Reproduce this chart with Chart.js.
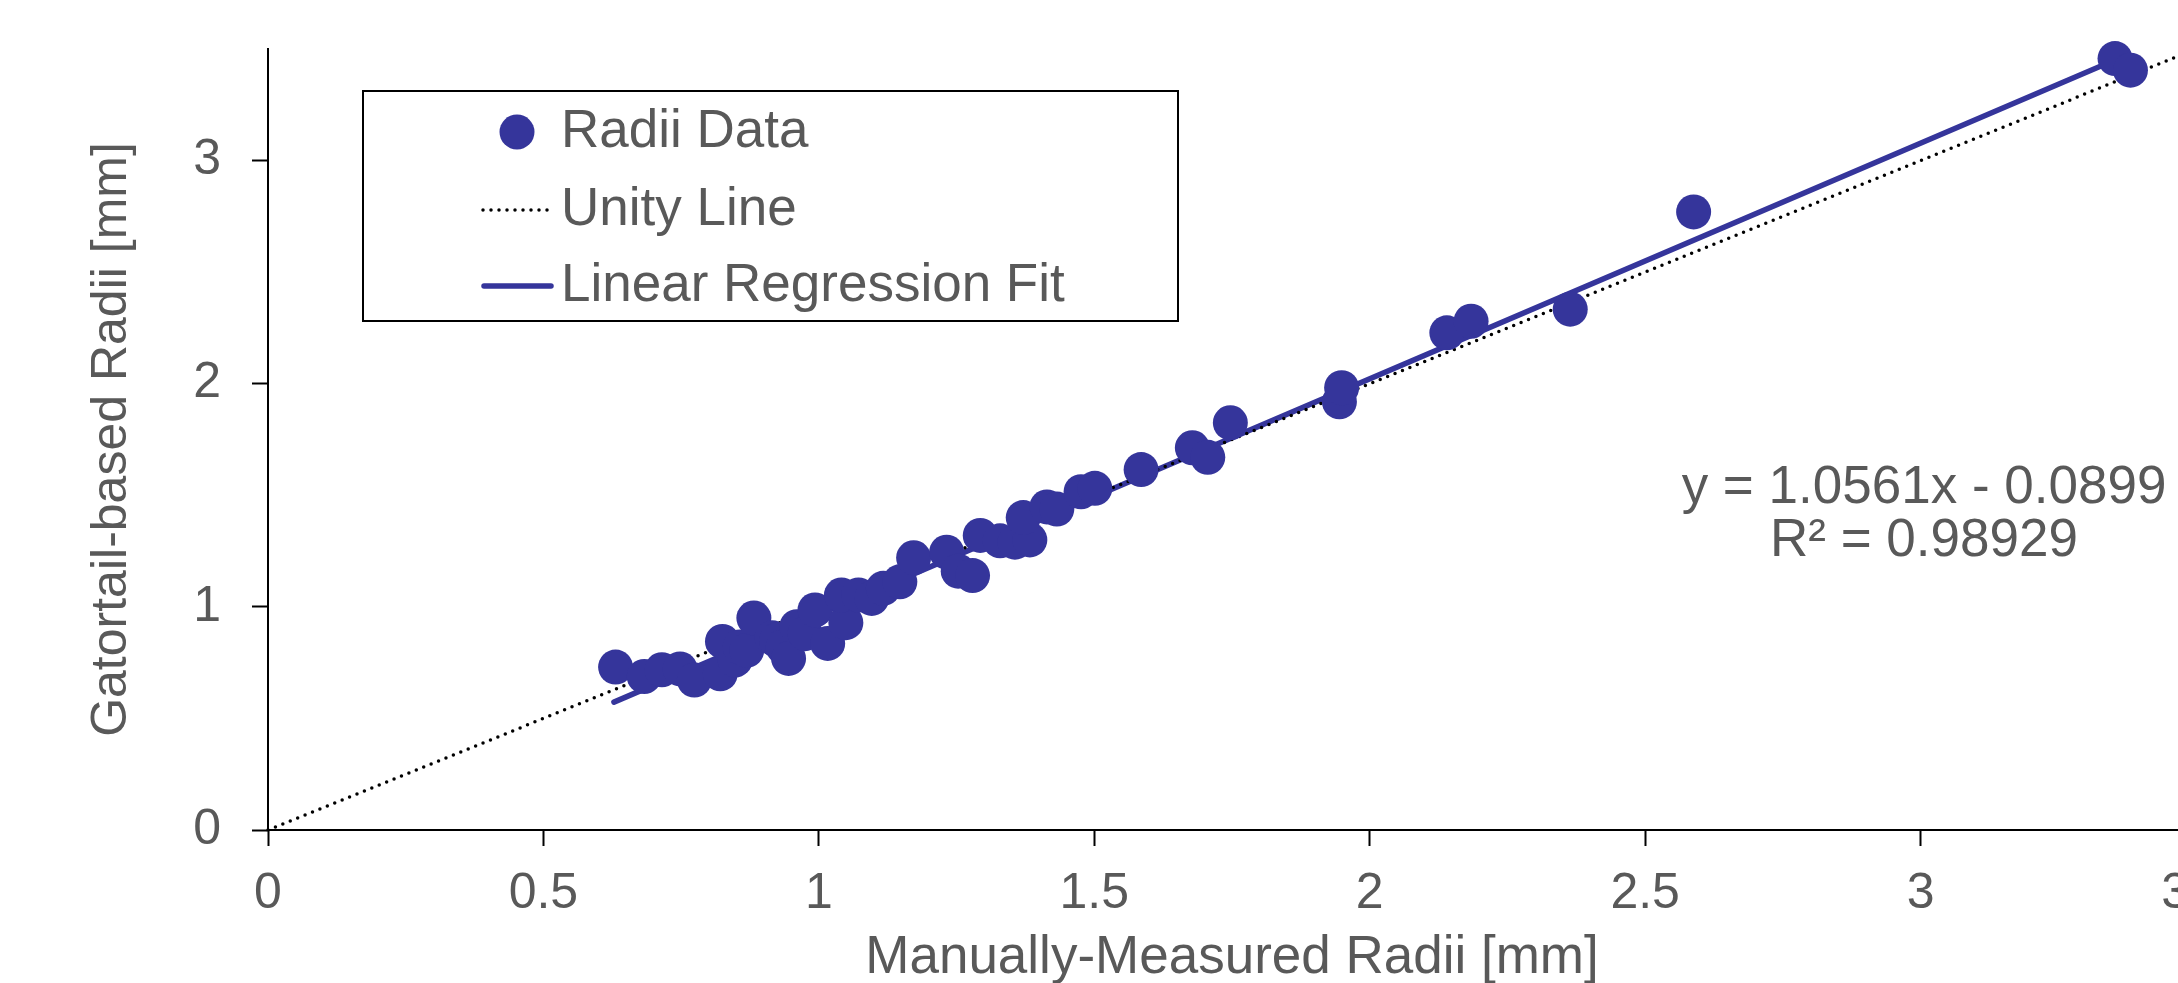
<!DOCTYPE html>
<html>
<head>
<meta charset="utf-8">
<script src="https://cdn.jsdelivr.net/npm/chart.js@4.4.1/dist/chart.umd.min.js"></script>
<style>
  html, body { margin: 0; padding: 0; background: #fff; overflow: hidden; }
  canvas { display: block; }
</style>
</head>
<body>
<canvas id="chart" width="2240" height="1000"></canvas>
<script>
// values
const radiiX = [0.631, 0.683, 0.715, 0.748, 0.774, 0.821, 0.825, 0.848, 0.857, 0.869,
  0.882, 0.915, 0.923, 0.935, 0.945, 0.960, 0.975, 0.993, 1.016, 1.049,
  1.041, 1.072, 1.096, 1.117, 1.147, 1.172, 1.232, 1.253, 1.279, 1.293,
  1.329, 1.356, 1.383, 1.371, 1.414, 1.432, 1.476, 1.501, 1.585, 1.678,
  1.706, 1.747, 1.945, 1.949, 2.140, 2.184, 2.364, 2.588, 3.353, 3.381];
const radiiY = [0.730, 0.688, 0.718, 0.722, 0.672, 0.700, 0.845, 0.762, 0.820, 0.805,
  0.950, 0.862, 0.850, 0.820, 0.769, 0.911, 0.880, 0.986, 0.836, 0.929,
  1.053, 1.053, 1.038, 1.083, 1.112, 1.220, 1.245, 1.160, 1.140, 1.320,
  1.296, 1.290, 1.300, 1.400, 1.448, 1.438, 1.516, 1.531, 1.615, 1.713,
  1.670, 1.825, 1.919, 1.982, 2.228, 2.280, 2.334, 2.770, 3.457, 3.405];
const unityX = [0, 3.5];
const unityY = [0, 3.5];
const fitX = [0.628, 3.353];
const fitY = [0.573, 3.451];

const seriesLabels = ['Radii Data', 'Unity Line', 'Linear Regression Fit'];
const fitText = ['y = 1.0561x - 0.0899', 'R\u00b2 = 0.98929'];

const xTicks = [0, 0.5, 1, 1.5, 2, 2.5, 3, 3.5];
const xTickLabels = ['0', '0.5', '1', '1.5', '2', '2.5', '3', '3.5'];
const yTicks = [0, 1, 2, 3];
const yTickLabels = ['0', '1', '2', '3'];

const FONT = '"Liberation Sans", Arial, Helvetica, sans-serif';
const TEXT = '#595959';
const BLUE = '#35359b';

const pts = (xs, ys) => xs.map((x, i) => ({ x: x, y: ys[i] }));

// legend box and fit equation, drawn on top of the data
const overlay = {
  id: 'overlay',
  afterDatasetsDraw(chart) {
    const ctx = chart.ctx;
    const ds = chart.data.datasets;
    ctx.save();
    ctx.fillStyle = '#fff';
    ctx.fillRect(363, 91, 815, 230);
    ctx.strokeStyle = '#000';
    ctx.lineWidth = 2;
    ctx.strokeRect(363, 91, 815, 230);

    const rows = [132, 210, 286];
    // marker sample
    ctx.fillStyle = ds[0].backgroundColor;
    ctx.beginPath();
    ctx.arc(517, rows[0], ds[0].pointRadius, 0, Math.PI * 2);
    ctx.fill();
    // dotted sample
    ctx.strokeStyle = ds[1].borderColor;
    ctx.lineWidth = ds[1].borderWidth;
    ctx.lineCap = 'round';
    ctx.setLineDash(ds[1].borderDash);
    ctx.beginPath();
    ctx.moveTo(483, rows[1]);
    ctx.lineTo(550, rows[1]);
    ctx.stroke();
    // solid sample
    ctx.setLineDash([]);
    ctx.strokeStyle = ds[2].borderColor;
    ctx.lineWidth = ds[2].borderWidth;
    ctx.beginPath();
    ctx.moveTo(484, rows[2]);
    ctx.lineTo(551, rows[2]);
    ctx.stroke();

    ctx.fillStyle = TEXT;
    ctx.font = '53px ' + FONT;
    ctx.textBaseline = 'middle';
    ctx.textAlign = 'left';
    ds.forEach((d, i) => ctx.fillText(d.label, 561, rows[i]));

    ctx.textAlign = 'center';
    ctx.fillText(fitText[0], 1924, 488);
    ctx.fillText(fitText[1], 1924, 541);
    ctx.restore();
  }
};

Chart.defaults.font.family = FONT;
Chart.defaults.color = TEXT;

new Chart(document.getElementById('chart'), {
  type: 'scatter',
  data: {
    datasets: [
      {
        label: seriesLabels[0],
        data: pts(radiiX, radiiY),
        backgroundColor: BLUE,
        borderWidth: 0,
        pointRadius: 17.5,
        clip: false
      },
      {
        type: 'line',
        label: seriesLabels[1],
        data: pts(unityX, unityY),
        borderColor: '#000',
        borderWidth: 3.5,
        borderDash: [0, 8],
        borderCapStyle: 'round',
        pointRadius: 0,
        clip: false
      },
      {
        type: 'line',
        label: seriesLabels[2],
        data: pts(fitX, fitY),
        borderColor: BLUE,
        borderWidth: 5.5,
        borderCapStyle: 'round',
        pointRadius: 0
      }
    ]
  },
  options: {
    responsive: false,
    animation: false,
    devicePixelRatio: 1,
    layout: { padding: { top: 49, right: 44, left: 0, bottom: 0 } },
    plugins: { legend: { display: false }, tooltip: { enabled: false } },
    scales: {
      x: {
        type: 'linear',
        min: 0,
        max: 3.5,
        afterBuildTicks: (s) => { s.ticks = xTicks.map(v => ({ value: v })); },
        afterFit: (s) => { s.height = 170; s.paddingLeft = 0; s.paddingRight = 0; },
        border: { display: true, color: '#000', width: 2 },
        grid: { drawOnChartArea: false, drawTicks: true, tickLength: 16, tickColor: '#000', tickWidth: 2 },
        ticks: {
          padding: 18,
          font: { size: 50 },
          color: TEXT,
          maxRotation: 0,
          autoSkip: false,
          callback: (v, i) => xTickLabels[i]
        },
        title: {
          display: true,
          text: 'Manually-Measured Radii [mm]',
          font: { size: 53 },
          color: TEXT,
          padding: { top: 0, bottom: 10 }
        }
      },
      y: {
        type: 'linear',
        min: 0,
        max: 3.5,
        afterBuildTicks: (s) => { s.ticks = yTicks.map(v => ({ value: v })); },
        afterFit: (s) => { s.width = 268; s.paddingTop = 0; s.paddingBottom = 0; },
        border: { display: true, color: '#000', width: 2 },
        grid: { drawOnChartArea: false, drawTicks: true, tickLength: 16, tickColor: '#000', tickWidth: 2 },
        ticks: {
          padding: 31,
          font: { size: 50 },
          color: TEXT,
          autoSkip: false,
          callback: (v, i) => yTickLabels[i]
        },
        title: {
          display: true,
          text: 'Gatortail-based Radii [mm]',
          font: { size: 50 },
          color: TEXT,
          padding: { top: 82, bottom: 0 }
        }
      }
    }
  },
  plugins: [overlay]
});
</script>
</body>
</html>
